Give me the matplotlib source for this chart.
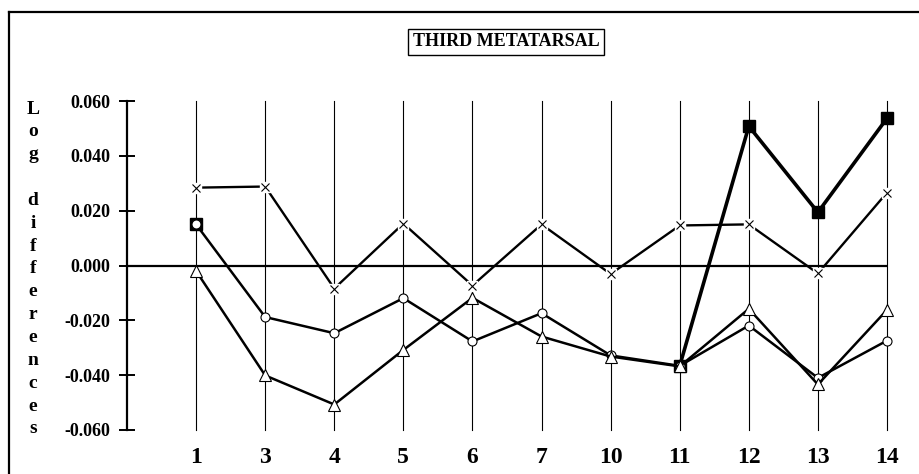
import numpy as np
import matplotlib
matplotlib.use("Agg")
import matplotlib.pyplot as plt
from matplotlib.lines import Line2D

categories = ["1", "3", "4", "5", "6", "7", "10", "11", "12", "13", "14"]
series_cross = [0.0284, 0.0288, -0.0084, 0.0153, -0.0073, 0.0150, -0.0031, 0.0146, 0.0150, -0.0029, 0.0266]
series_circle = [0.0150, -0.0188, -0.0247, -0.0119, -0.0277, -0.0174, -0.0328, -0.0366, -0.0219, -0.0410, -0.0274]
series_triangle = [-0.0020, -0.0401, -0.0507, -0.0308, -0.0118, -0.0259, -0.0332, -0.0368, -0.0158, -0.0434, -0.0162]
series_square = [0.0150, np.nan, np.nan, np.nan, np.nan, np.nan, np.nan, -0.0366, 0.0508, 0.0194, 0.0537]
y_ticks = [-0.06, -0.04, -0.02, 0.0, 0.02, 0.04, 0.06]
title = "THIRD METATARSAL"
ylabel = "Log differences"

plt.rcParams['font.family'] = ['Liberation Serif', 'DejaVu Serif']
plt.rcParams['font.weight'] = 'bold'

fig = plt.figure(figsize=(9.2, 4.74), dpi=100)
W, H = 920, 474
ax = fig.add_axes([127 / W, 1 - 430 / H, (887 - 127) / W, (430 - 101) / H])

x = np.arange(len(categories))
ax.set_xlim(-1, len(categories) - 1)
ax.set_ylim(-0.06, 0.06)

# vertical gridlines at each category
for xi in x:
    ax.axvline(xi, color='black', lw=0.8, zorder=1, clip_on=False)
# zero line (category axis)
ax.axhline(0, color='black', lw=1.6, zorder=1)

# cross series
ax.plot(x, series_cross, color='black', lw=1.7, zorder=3, clip_on=False)
ax.plot(x, series_cross, ls='none', marker='s', ms=7, mfc='white', mec='white', zorder=4, clip_on=False)
ax.plot(x, series_cross, ls='none', marker='x', ms=6, mec='black', mew=0.8, zorder=5, clip_on=False)

# circle series
ax.plot(x, series_circle, color='black', lw=1.8, marker='o', ms=6.5, mfc='white',
        mec='black', mew=0.8, zorder=4, clip_on=False)

# triangle series
ax.plot(x, series_triangle, color='black', lw=1.8, marker='^', ms=9, mfc='white',
        mec='black', mew=0.8, zorder=5, clip_on=False)

# square series
ax.plot(x, series_square, color='black', lw=2.6, marker='s', ms=8.5, mfc='black',
        mec='black', zorder=3, clip_on=False)
# open circle drawn on top at first point
ax.plot(x[:1], series_circle[:1], ls='none', marker='o', ms=6.5, mfc='white',
        mec='black', mew=0.8, zorder=6, clip_on=False)

ax.set_xticks(x)
ax.set_xticklabels(categories, fontsize=17, fontweight='bold')
ax.tick_params(axis='x', length=0, pad=12)
ax.set_yticks(y_ticks)
ax.set_yticklabels([f"{v:.3f}" for v in y_ticks], fontsize=13, fontweight='bold')
ax.tick_params(axis='y', direction='inout', length=12, width=1.4, pad=6, color='black')

for s in ['top', 'right', 'bottom']:
    ax.spines[s].set_visible(False)
ax.spines['left'].set_linewidth(1.6)
ax.patch.set_alpha(0)

# stacked y label
letters = "L\no\ng\n\nd\ni\nf\nf\ne\nr\ne\nn\nc\ne\ns"
fig.text(33 / W, 1 - 269 / H, letters, ha='center', va='center', fontsize=14,
         fontweight='bold', linespacing=1.45)

# title box
fig.text(506 / W, 1 - 42 / H, title, ha='center', va='center', fontsize=13,
         fontweight='bold',
         bbox=dict(boxstyle='square,pad=0.25', fc='white', ec='black', lw=1.0))

# outer frame (top and left edges)
fig.add_artist(Line2D([9 / W, 1.0], [1 - 12 / H, 1 - 12 / H], color='black', lw=1.6,
                      transform=fig.transFigure))
fig.add_artist(Line2D([9 / W, 9 / W], [1 - 12 / H, 0.0], color='black', lw=1.6,
                      transform=fig.transFigure))

fig.savefig("out.png", dpi=100)
